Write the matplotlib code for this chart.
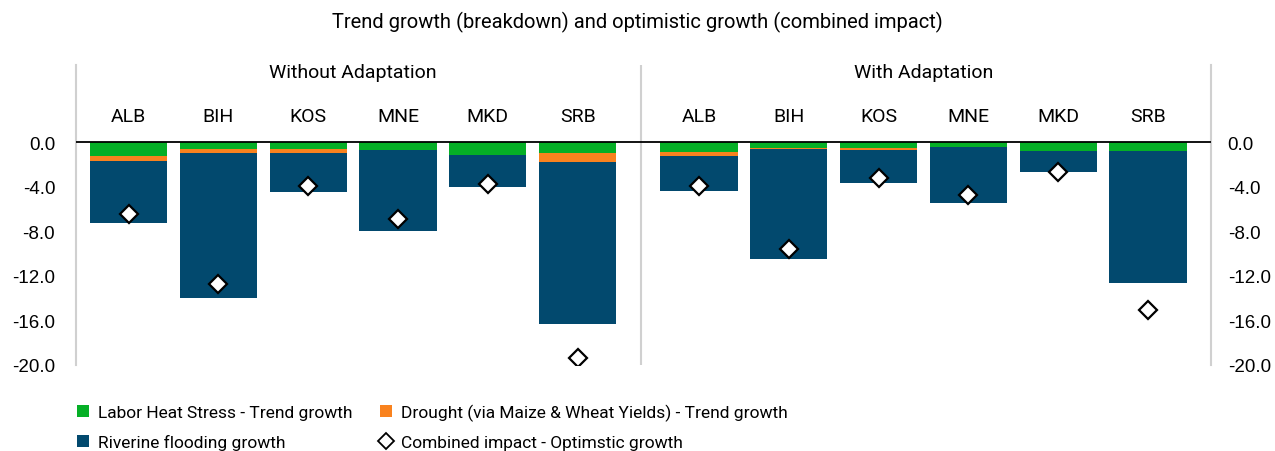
import numpy as np
import matplotlib
matplotlib.use("Agg")
import matplotlib.pyplot as plt
from matplotlib.patches import Patch
from matplotlib.lines import Line2D
from matplotlib import font_manager

# Country codes for each panel
countries = ['ALB', 'BIH', 'KOS', 'MNE', 'MKD', 'SRB']

# Without adaptation (% impact)
heat_no = [-1.26, -0.60, -0.60, -0.69, -1.14, -0.96]
drought_no = [-0.42, -0.36, -0.36, -0.03, 0.0, -0.81]
flood_no = [-5.56, -13.05, -3.47, -7.24, -2.87, -14.53]
combined_no = [-6.45, -12.70, -3.89, -6.90, -3.74, -19.35]

# With adaptation (% impact)
heat_ad = [-0.87, -0.51, -0.51, -0.42, -0.78, -0.78]
drought_ad = [-0.36, -0.09, -0.18, 0.0, 0.0, 0.0]
flood_ad = [-3.14, -9.92, -2.93, -5.00, -1.86, -11.84]
combined_ad = [-3.95, -9.60, -3.23, -4.70, -2.63, -15.10]

yticks = [0, -4, -8, -12, -16, -20]

GREEN = '#05AF26'
ORANGE = '#F9821E'
BLUE = '#02496E'

names = {f.name for f in font_manager.fontManager.ttflist}
narrow = 'Liberation Sans Narrow' if 'Liberation Sans Narrow' in names else 'Roboto'
plt.rcParams['font.family'] = [narrow, 'DejaVu Sans']

fig = plt.figure(figsize=(12.75, 4.52), dpi=100)
ax = fig.add_axes([76 / 1275, 86 / 452, (1211 - 76) / 1275, 300 / 452])

x_no = np.arange(len(countries))
x_ad = np.arange(len(countries)) + 6.35
width = 0.86


def stacked(x, heat, drought, flood, combined):
    heat = np.array(heat)
    drought = np.array(drought)
    flood = np.array(flood)
    ax.bar(x, heat, width, color=GREEN, zorder=2)
    ax.bar(x, drought, width, bottom=heat, color=ORANGE, zorder=2)
    ax.bar(x, flood, width, bottom=heat + drought, color=BLUE, zorder=2)
    ax.plot(x, combined, linestyle='none', marker='D', markersize=9,
            markerfacecolor='white', markeredgecolor='black',
            markeredgewidth=1.6, zorder=4)


stacked(x_no, heat_no, drought_no, flood_no, combined_no)
stacked(x_ad, heat_ad, drought_ad, flood_ad, combined_ad)

ax.set_xlim(-0.585, 12.05)
ax.set_ylim(-20, 6.94)
ax.axhline(0, color='black', lw=1.3, zorder=3)
ax.axvline(5.707, color='#D0D0D0', lw=1.5, zorder=1)

for s in ['top', 'bottom']:
    ax.spines[s].set_visible(False)
for s in ['left', 'right']:
    ax.spines[s].set_color('#D0D0D0')
    ax.spines[s].set_linewidth(1.5)

ax.set_xticks([])
ax.set_yticks(yticks)
ax.set_yticklabels([f'{v:.1f}' for v in yticks], family='Liberation Sans', fontsize=13.5)
ax.tick_params(axis='y', length=0, pad=15)

ax2 = ax.twinx()
ax2.set_ylim(ax.get_ylim())
ax2.set_yticks(yticks)
ax2.set_yticklabels([f'{v:.1f}' for v in yticks], family='Liberation Sans', fontsize=13.5)
ax2.tick_params(axis='y', length=0, pad=12)
for s in ax2.spines.values():
    s.set_visible(False)

# Category and group labels above the bars
for xs in (x_no, x_ad):
    for xi, c in zip(xs, countries):
        ax.text(xi, 2.36, c, ha='center', va='center', fontsize=14)
ax.text(x_no.mean(), 6.3, 'Without Adaptation', ha='center', va='center', fontsize=14)
ax.text(x_ad.mean(), 6.3, 'With Adaptation', ha='center', va='center', fontsize=14)

fig.text(0.5, 1 - 22 / 452, 'Trend growth (breakdown) and optimistic growth (combined impact)',
         ha='center', va='center', fontsize=14.5)

handles = [
    Patch(facecolor=GREEN, label='Labor Heat Stress - Trend growth'),
    Patch(facecolor=BLUE, label='Riverine flooding growth'),
    Patch(facecolor=ORANGE, label='Drought (via Maize & Wheat Yields) - Trend growth'),
    Line2D([], [], linestyle='none', marker='D', markersize=8, markerfacecolor='white',
           markeredgecolor='black', markeredgewidth=1.3, label='Combined impact - Optimstic growth'),
]
fig.legend(handles=handles, ncol=2, loc='upper left', bbox_to_anchor=(77 / 1275, 1 - 405 / 452),
           frameon=False, fontsize=12.5, handlelength=0.7, handleheight=0.7,
           handletextpad=0.5, columnspacing=1.6, labelspacing=0.78,
           borderpad=0, borderaxespad=0)

fig.savefig('out.png', dpi=100)
